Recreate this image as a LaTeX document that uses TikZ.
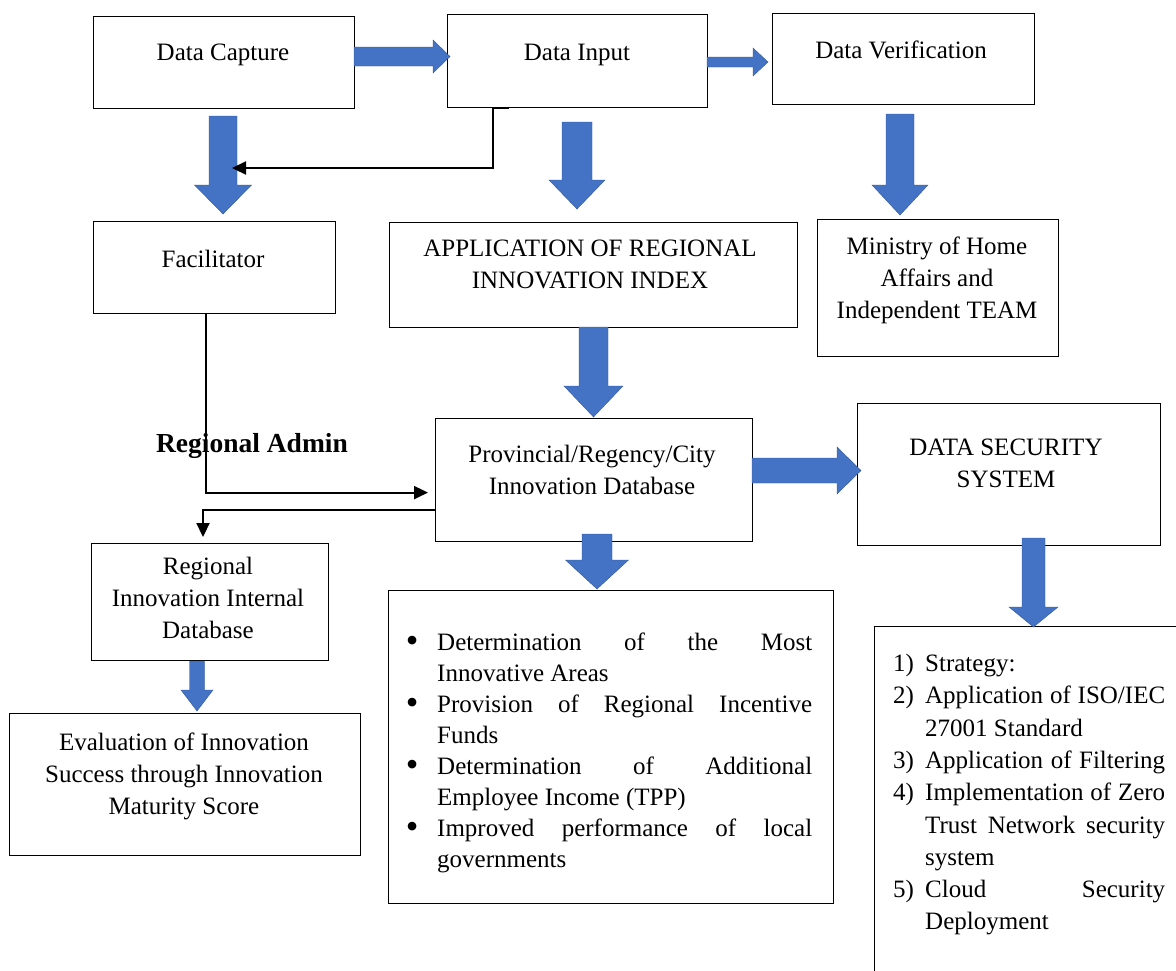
\documentclass[tikz,border=0pt]{standalone}
\usepackage{fontspec}
\setmainfont{Liberation Serif}
\usepackage{tikz}
\usetikzlibrary{positioning,arrows.meta}
\definecolor{fillblue}{RGB}{68,114,196}

\begin{document}
\begin{tikzpicture}[x=1pt,y=-1pt,
	box/.style={draw, line width=1.2pt, anchor=north west, inner sep=0},
	txt/.style={align=center, inner sep=0, font=\fontsize{25}{32}\selectfont,
		execute at begin node=\strut, execute at end node=\strut},
	lst/.style={align=left, inner sep=0, anchor=north west, execute at begin node=\strut},
	link/.style={draw, line width=2.2pt, -{Triangle[length=14pt,width=13pt]}},
	fat/.style={fill=fillblue, draw=fillblue!75!black, line width=0.4pt}]
	\useasboundingbox (0,0) rectangle (1176,970);
	% boxes
	\node[box, minimum width=261, minimum height=92] (cap) at (93,16) {};
	\node[box, minimum width=260, minimum height=93] (inp) at (447,14) {};
	\node[box, minimum width=262, minimum height=91] (ver) at (772,13) {};
	\node[box, minimum width=242, minimum height=92] (fac) at (93,221) {};
	\node[box, minimum width=408, minimum height=105] (app) at (389,222) {};
	\node[box, minimum width=241, minimum height=137] (min) at (817,219) {};
	\node[box, minimum width=317, minimum height=123] (prov) at (435,418) {};
	\node[box, minimum width=303, minimum height=142] (sec) at (857,403) {};
	\node[box, minimum width=237, minimum height=117] (reg) at (91,543) {};
	\node[box, minimum width=351, minimum height=142] (eva) at (9,713) {};
	\node[box, minimum width=445, minimum height=313] (use) at (388,590) {};
	\node[box, minimum width=400, minimum height=400] (sys) at (874,626) {};
	% texts
	\node[txt] (capT) at (223,54) {Data Capture};
	\node[txt] (inpT) at (577,54) {Data Input};
	\node[txt] (verT) at (901,52) {Data Verification};
	\node[txt] (facT) at (213,261) {Facilitator};
	\node[txt] (appT) at (590,269) {APPLICATION OF REGIONAL\\INNOVATION INDEX};
	\node[txt] (minT) at (937,282) {Ministry of Home\\Affairs and\\Independent TEAM};
	\node[txt] (provT) at (592,475) {Provincial/Regency/City\\Innovation Database};
	\node[txt] (secT) at (1006,468) {DATA SECURITY\\SYSTEM};
	\node[txt] (regT) at (208,603) {Regional\\Innovation Internal\\Database};
	\node[txt] (evaT) at (184,778) {Evaluation of Innovation\\Success through Innovation\\Maturity Score};
	\node[font=\bfseries\fontsize{27.5}{33}\selectfont, inner sep=0] (admin) at (252,446) {Regional Admin};
	\node[lst, font=\fontsize{25}{31}\selectfont] (useT) at (399,633) {%
		\makebox[26pt]{\raisebox{-2pt}{\fontsize{36}{31}\selectfont\textbullet}}\hspace{12pt}\makebox[375pt][s]{Determination of the Most}\\
		\hspace*{38pt}Innovative Areas\\
		\makebox[26pt]{\raisebox{-2pt}{\fontsize{36}{31}\selectfont\textbullet}}\hspace{12pt}\makebox[375pt][s]{Provision of Regional Incentive}\\
		\hspace*{38pt}Funds\\
		\makebox[26pt]{\raisebox{-2pt}{\fontsize{36}{31}\selectfont\textbullet}}\hspace{12pt}\makebox[375pt][s]{Determination of Additional}\\
		\hspace*{38pt}Employee Income (TPP)\\
		\makebox[26pt]{\raisebox{-2pt}{\fontsize{36}{31}\selectfont\textbullet}}\hspace{12pt}\makebox[375pt][s]{Improved performance of local}\\
		\hspace*{38pt}governments};
	\node[lst, font=\fontsize{25}{32.3}\selectfont] (sysT) at (893,654) {%
		\makebox[32pt][l]{1)}Strategy:\\
		\makebox[32pt][l]{2)}\makebox[240pt][s]{Application of ISO/IEC}\\
		\hspace*{32pt}27001 Standard\\
		\makebox[32pt][l]{3)}\makebox[240pt][s]{Application of Filtering}\\
		\makebox[32pt][l]{4)}\makebox[240pt][s]{Implementation of Zero}\\
		\hspace*{32pt}\makebox[240pt][s]{Trust Network security}\\
		\hspace*{32pt}system\\
		\makebox[32pt][l]{5)}\makebox[240pt][s]{Cloud Security}\\
		\hspace*{32pt}Deployment};
	% block arrows: tail x/y, length, angle, half shaft, head, half head
	\foreach \x/\y/\l/\r/\s/\h/\w in {354/56.5/96/0/9.5/17/16.5, 707/62/61/0/5/15/14,
		223/116/98/-90/14/29/28.5, 577/122/87/-90/15/29/28, 900/114/101/-90/14/30/28,
		593.5/327/90/-90/14.5/31/29.5, 752/470.5/109/0/12.5/24/23.5,
		597/534/55/-90/15/29/31.5, 1033.5/538/89/-90/11.5/20/24.5, 197/661/50/-90/7.5/21/16} {
		\filldraw[fat, shift={(\x,\y)}, rotate=\r] (0,-\s) -- (\l-\h,-\s) -- (\l-\h,-\w)
			-- (\l,0) -- (\l-\h,\w) -- (\l-\h,\s) -- (0,\s) -- cycle;
	};
	% connectors
	\coordinate (capHit) at (232,168);
	\path[link]
		([xshift=62pt]inp.south west) -- ([xshift=46pt]inp.south west) |- (capHit);
	\path[link]
		([xshift=113pt]fac.south west) |- ([xshift=-7pt,yshift=-12.5pt]prov.west);
	\path[link]
		([yshift=-29.5pt]prov.west) -| ([xshift=112pt,yshift=6pt]reg.north west);
\end{tikzpicture}
\end{document}
